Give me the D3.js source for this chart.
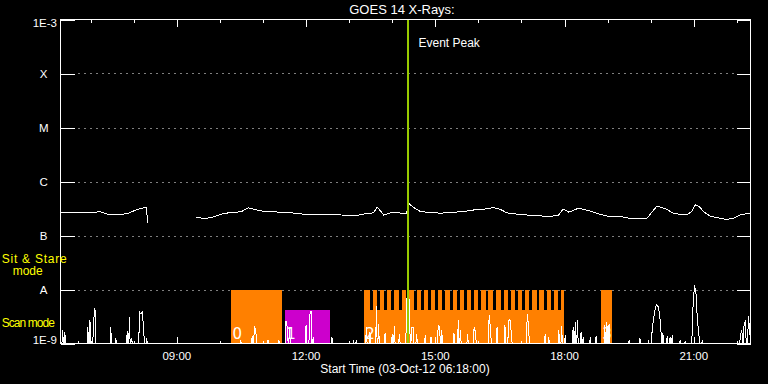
<!DOCTYPE html>
<html>
<head>
<meta charset="utf-8">
<script src="https://cdn.jsdelivr.net/npm/d3@7"></script>
<style>
  html, body { margin: 0; padding: 0; background: #000; }
  svg { display: block; }
  text { font-family: "Liberation Sans", Arial, sans-serif; fill: #fff; }
</style>
</head>
<body>
<div id="chart"></div>
<script>
// time range of the plot
var startTime = "06:18";
var endTime = "22:19";
var eventPeak = "14:22";

// GOES flux levels (log axis)
var fluxLevels = [1e-9, 1e-8, 1e-7, 1e-6, 1e-5, 1e-4, 1e-3];
var fluxLabels = ["1E-9", "A", "B", "C", "M", "X", "1E-3"];

// GOES 1-8 A curve (null = data gap)
var goesTimes = ["06:19","06:37","06:50","07:00","07:13","07:23","07:37","07:51","08:05","08:15","08:18","08:19",
  "08:50",
  "09:27","09:40","09:51","10:05","10:19","10:29","10:40","10:56","11:15","11:34","11:57","12:25","12:48",
  "13:11","13:23","13:34","13:39","13:46","13:48","14:00","14:09","14:20","14:23","14:30","14:39","14:53",
  "15:07","15:26","15:39","15:58","16:12","16:21","16:31","16:40","16:58","17:17","17:40","17:52","17:58",
  "18:06","18:17","18:24","18:36","18:50","19:04","19:18","19:32","19:55","20:02","20:09","20:16","20:23",
  "20:32","20:50","20:57","21:02","21:07","21:14","21:23","21:32","21:46","21:55","22:05","22:19"];
var goesFlux = [2.70e-7,2.67e-7,2.62e-7,2.62e-7,2.78e-7,2.48e-7,2.40e-7,2.55e-7,3.03e-7,3.30e-7,3.35e-7,1.71e-7,
  null,
  2.15e-7,2.07e-7,2.21e-7,2.55e-7,2.70e-7,2.74e-7,3.25e-7,2.86e-7,2.74e-7,2.67e-7,2.48e-7,2.40e-7,2.40e-7,
  2.34e-7,2.55e-7,2.62e-7,3.39e-7,2.62e-7,2.40e-7,2.67e-7,2.62e-7,2.55e-7,3.92e-7,3.30e-7,2.78e-7,2.67e-7,
  2.59e-7,2.70e-7,2.78e-7,3.03e-7,3.11e-7,3.30e-7,3.03e-7,2.62e-7,2.45e-7,2.34e-7,2.25e-7,2.40e-7,3.11e-7,
  2.70e-7,3.11e-7,3.11e-7,2.82e-7,2.45e-7,2.21e-7,2.25e-7,2.07e-7,2.09e-7,2.74e-7,3.53e-7,3.25e-7,3.03e-7,
  2.55e-7,2.40e-7,2.78e-7,3.69e-7,3.49e-7,2.74e-7,2.28e-7,2.15e-7,1.98e-7,2.09e-7,2.40e-7,2.62e-7];

// low-level spiky trace at the bottom
var spikeTimes = ["06:21","06:24","06:43","06:56","06:59","07:04","07:06","07:28","07:35","07:51","07:54","07:57",
  "08:08","08:10","08:12","08:14","08:18","10:29","10:45","10:48","10:50","11:07","11:22","11:32","11:34","11:37",
  "12:00","12:05","12:07","12:10","12:36","13:06","13:10","13:24","13:29","13:38","13:41","13:50","14:00","14:03",
  "14:10","14:20","14:22","14:24","14:27","14:29","14:34","14:46","14:54","15:04","15:06","15:09","15:26","15:32",
  "15:35","15:45","15:54","15:56","16:15","16:17","16:26","16:37","16:42","16:44","16:46","17:08","17:10","17:33",
  "17:38","17:52","17:56","18:01","18:12","18:15","18:18","18:23","18:26","18:36","18:44","18:56","18:59","19:02",
  "19:30","19:45","19:57","20:02","20:04","20:06","20:08","20:10","20:12","20:14","20:17","20:23","20:27","20:30",
  "20:41","20:48","20:58","20:59","21:01","21:03","21:05","21:07","21:12","22:05","22:07","22:10","22:12","22:16","22:18"];
var spikeFlux = [1.76e-9,1.62e-9,1.07e-9,2.0e-9,2.78e-9,2.5e-9,4.6e-9,2.03e-9,1.25e-9,1.71e-9,3.1e-9,1.25e-9,
  3.8e-9,3.49e-9,3.8e-9,1.64e-9,1.25e-9,1.1e-9,1.36e-9,2.09e-9,1.76e-9,1.15e-9,1.15e-9,2.6e-9,2.0e-9,2.0e-9,
  2.18e-9,3.34e-9,4.0e-9,1.32e-9,1.32e-9,1.1e-9,1.1e-9,2.0e-9,1.62e-9,4.97e-9,2.28e-9,1.55e-9,1.49e-9,2.12e-9,
  1.49e-9,6.9e-9,7.1e-9,6.3e-9,2.0e-9,2.0e-9,1.49e-9,1.43e-9,1.3e-9,2.12e-9,2.09e-9,1.76e-9,1.53e-9,2.7e-9,
  1.76e-9,1.49e-9,2.0e-9,1.62e-9,3.39e-9,1.76e-9,2.0e-9,2.21e-9,2.6e-9,2.82e-9,1.49e-9,3.49e-9,2.03e-9,1.49e-9,
  1.3e-9,1.76e-9,2.12e-9,1.43e-9,2.03e-9,2.45e-9,2.7e-9,1.64e-9,1.3e-9,1.3e-9,1.38e-9,2.18e-9,2.45e-9,2.28e-9,
  1.15e-9,1.25e-9,1.1e-9,1.76e-9,2.9e-9,4.13e-9,5.3e-9,4.97e-9,3.8e-9,2.18e-9,1.55e-9,1.36e-9,1.3e-9,1.43e-9,
  1.15e-9,1.1e-9,1.76e-9,5.1e-9,1.2e-8,8.9e-9,2.7e-9,1.55e-9,1.15e-9,1.43e-9,1.76e-9,2.18e-9,2.7e-9,3.2e-9,1.76e-9];

// observing blocks
var blockIds = ["0", "1", "2", "3"];
var blockStarts = ["10:16", "11:31", "13:21", "18:51"];
var blockEnds = ["11:27", "12:33", "17:59", "19:06"];
var blockModes = ["sit", "raster", "mixed", "sit"];

// scan windows inside block 2
var scanStarts = ["13:29","13:39","13:49","13:59","14:09","14:19","14:30","14:40","14:50","15:00","15:10","15:20",
  "15:30","15:40","15:50","16:00","16:10","16:20","16:31","16:41","16:51","17:01","17:11","17:21","17:31","17:41","17:51"];
var scanEnds = ["13:33","13:43","13:53","14:03","14:13","14:23","14:34","14:44","14:54","15:04","15:14","15:24",
  "15:34","15:44","15:54","16:04","16:14","16:24","16:35","16:45","16:55","17:05","17:15","17:25","17:35","17:45","17:55"];

// bar heights for each mode, on the flux axis
var sitTop = 1e-8;
var scanTop = 4.1e-9;

var orange = "#ff8000", magenta = "#cc00cc", peakGreen = "#99cc00", yellow = "#ffff00";

var svgWidth = 768, svgHeight = 384;
var margin = {top: 19.5, right: 17.5, bottom: 40.5, left: 60.5};

var svg = d3.select("#chart").append("svg")
  .attr("width", svgWidth)
  .attr("height", svgHeight)
  .style("background", "#000");

var parseTime = d3.utcParse("%H:%M");

var x = d3.scaleUtc()
  .domain([parseTime(startTime), parseTime(endTime)])
  .range([margin.left, svgWidth - margin.right]);

var y = d3.scaleLog()
  .domain([1e-9, 1e-3])
  .range([svgHeight - margin.bottom, margin.top]);

var x0 = x.range()[0], x1 = x.range()[1];
var yTop = y.range()[1], yBot = y.range()[0];

// dotted level lines
svg.append("g").selectAll("line")
  .data(fluxLevels.slice(1, 6))
  .enter().append("line")
  .attr("x1", x0 + 18).attr("x2", x1 - 14)
  .attr("y1", d => Math.round(y(d)) + 0.5).attr("y2", d => Math.round(y(d)) + 0.5)
  .attr("stroke", "#fff")
  .attr("stroke-dasharray", "1,5");

// observing blocks
var blockData = blockIds.map(function(id, i) {
  return {id: id, start: parseTime(blockStarts[i]), end: parseTime(blockEnds[i]), mode: blockModes[i]};
});

var blocksG = svg.append("g").attr("shape-rendering", "crispEdges");

blockData.forEach(function(b) {
  var top = b.mode === "sit" ? sitTop : scanTop;
  blocksG.append("rect")
    .attr("x", x(b.start)).attr("width", x(b.end) - x(b.start))
    .attr("y", y(top)).attr("height", yBot - y(top))
    .attr("fill", b.mode === "raster" ? magenta : orange);

  if (b.mode === "mixed") {
    // sit & stare windows lie between the scan windows
    var edges = [b.start];
    scanStarts.forEach(function(s, i) {
      edges.push(parseTime(s));
      edges.push(parseTime(scanEnds[i]));
    });
    edges.push(b.end);
    for (var k = 0; k < edges.length; k += 2) {
      blocksG.append("rect")
        .attr("x", x(edges[k])).attr("width", x(edges[k + 1]) - x(edges[k]))
        .attr("y", y(sitTop)).attr("height", y(scanTop) - y(sitTop))
        .attr("fill", orange);
    }
  }
});

// block numbers
svg.append("g").selectAll("text")
  .data(blockData)
  .enter().append("text")
  .attr("x", d => x(d.start) + 1)
  .attr("y", 338.5)
  .style("font-family", "'DejaVu Sans', sans-serif")
  .style("font-size", "15px")
  .text(d => d.id);

// bottom spiky trace
var spikes = spikeTimes.map((t, i) => ({t: parseTime(t), f: spikeFlux[i]}));
var spikePts = [];
var minute = 60000;
spikes.forEach(function(d, i) {
  var prev = spikes[i - 1], next = spikes[i + 1];
  if (!prev || d.t - prev.t > 2 * minute) spikePts.push({t: new Date(+d.t - minute), f: 1e-9});
  spikePts.push(d);
  if (!next || next.t - d.t > 2 * minute) spikePts.push({t: new Date(+d.t + minute), f: 1e-9});
});

svg.append("path")
  .datum(spikePts)
  .attr("fill", "none")
  .attr("stroke", "#fff")
  .attr("stroke-width", 1)
  .attr("shape-rendering", "crispEdges")
  .attr("d", d3.line().x(d => x(d.t)).y(d => y(d.f)));

// GOES curve
var goes = goesTimes.map((t, i) => ({t: parseTime(t), f: goesFlux[i]}));
svg.append("path")
  .datum(goes)
  .attr("fill", "none")
  .attr("stroke", "#fff")
  .attr("stroke-width", 1)
  .attr("shape-rendering", "crispEdges")
  .attr("d", d3.line().defined(d => d.f !== null).x(d => x(d.t)).y(d => y(d.f)));

// event peak marker
svg.append("line")
  .attr("x1", x(parseTime(eventPeak))).attr("x2", x(parseTime(eventPeak)))
  .attr("y1", yTop).attr("y2", yBot)
  .attr("stroke", peakGreen)
  .attr("stroke-width", 2);

svg.append("text")
  .attr("x", x(parseTime(eventPeak)) + 10.5)
  .attr("y", 46.5)
  .style("font-size", "12px")
  .text("Event Peak");

// frame and ticks
var axesG = svg.append("g").attr("shape-rendering", "crispEdges");

axesG.append("rect")
  .attr("x", x0).attr("y", yTop)
  .attr("width", x1 - x0).attr("height", yBot - yTop)
  .attr("fill", "none").attr("stroke", "#fff");

var minorTicks = d3.utcHour.every(1).range(x.domain()[0], x.domain()[1]);
var majorTicks = d3.utcHour.every(3).range(x.domain()[0], x.domain()[1]);

function styleAxis(g) {
  g.select(".domain").remove();
  g.selectAll("line").attr("stroke", "#fff");
  g.selectAll("text").remove();
}

axesG.append("g").attr("transform", `translate(0,${yTop})`)
  .call(d3.axisBottom(x).tickValues(minorTicks).tickSize(3)).call(styleAxis);
axesG.append("g").attr("transform", `translate(0,${yTop})`)
  .call(d3.axisBottom(x).tickValues(majorTicks).tickSize(7)).call(styleAxis);
axesG.append("g").attr("transform", `translate(0,${yBot})`)
  .call(d3.axisTop(x).tickValues(minorTicks).tickSize(3)).call(styleAxis);
axesG.append("g").attr("transform", `translate(0,${yBot})`)
  .call(d3.axisTop(x).tickValues(majorTicks).tickSize(7)).call(styleAxis);

axesG.append("g").attr("transform", `translate(${x0},0)`)
  .call(d3.axisRight(y).tickValues(fluxLevels).tickSize(14)).call(styleAxis);
axesG.append("g").attr("transform", `translate(${x1},0)`)
  .call(d3.axisLeft(y).tickValues(fluxLevels).tickSize(14)).call(styleAxis);

// x tick labels
svg.append("g").selectAll("text")
  .data(majorTicks)
  .enter().append("text")
  .attr("x", d => x(d))
  .attr("y", 359.5)
  .attr("text-anchor", "middle")
  .style("font-size", "11.5px")
  .text(d3.utcFormat("%H:%M"));

// y tick labels
svg.append("g").selectAll("text")
  .data(fluxLevels)
  .enter().append("text")
  .attr("x", (d, i) => (i === 0 || i === 6) ? 57 : 43.7)
  .attr("y", (d, i) => i === 6 ? y(d) + 7.5 : (i === 0 ? y(d) : y(d) + 4))
  .attr("text-anchor", (d, i) => (i === 0 || i === 6) ? "end" : "middle")
  .style("font-size", "11.5px")
  .text((d, i) => fluxLabels[i]);

// titles
svg.append("text")
  .attr("x", 402).attr("y", 13.5)
  .attr("text-anchor", "middle")
  .style("font-size", "13px")
  .text("GOES 14 X-Rays:");

svg.append("text")
  .attr("x", 405).attr("y", 372.5)
  .attr("text-anchor", "middle")
  .style("font-size", "12px")
  .text("Start Time (03-Oct-12 06:18:00)");

// mode legend
svg.append("text").attr("x", 1.7).attr("y", 262.5)
  .attr("textLength", 65).style("font-size", "12px").style("fill", yellow)
  .text("Sit & Stare");
svg.append("text").attr("x", 12.7).attr("y", 275)
  .style("font-size", "12px").style("fill", yellow)
  .text("mode");
svg.append("text").attr("x", 1.7).attr("y", 327.3)
  .attr("textLength", 53.3).style("font-size", "12px").style("fill", yellow)
  .text("Scan mode");
</script>
</body>
</html>
